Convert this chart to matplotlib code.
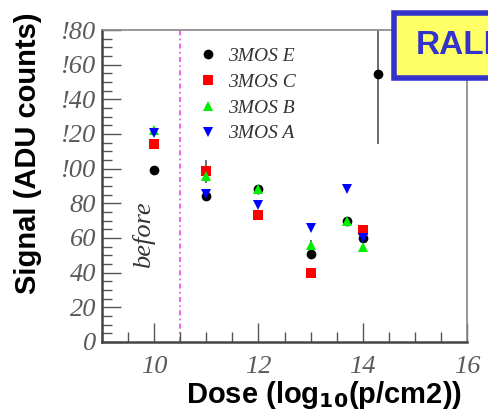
import numpy as np
import matplotlib
matplotlib.use("Agg")
import matplotlib.pyplot as plt
from matplotlib.patches import Rectangle

# dose values (log10 p/cm2) and signal for each device
doseE = [10, 11, 12, 13, 13.7, 14, 14.3]
sigE = [99, 84.5, 88, 50.5, 70, 60, 154.5]
errE = [0, 0, 0, 0, 0, 0, 40]

doseC = [10, 11, 12, 13, 14]
sigC = [114, 98.5, 73.5, 39.5, 64.5]
errC = [0, 6.5, 0, 0, 3]

doseB = [10, 11, 12, 13, 13.7, 14]
sigB = [122.5, 95.5, 88, 56, 70, 54.5]
errB = [0, 0, 0, 3, 0, 0]

doseA = [10, 11, 12, 13, 13.7, 14]
sigA = [120.5, 85.5, 79, 65.5, 88.5, 60]
errA = [0, 0, 0, 0, 0, 0]

names = ["3MOS E", "3MOS C", "3MOS B", "3MOS A"]
yticks = [0, 20, 40, 60, 80, 100, 120, 140, 160, 180]
ylabels = ["0", "20", "40", "60", "80", "!00", "!20", "!40", "!60", "!80"]
xticks = [10, 12, 14, 16]

fig = plt.figure(figsize=(4.88, 4.17), dpi=100)
ax = fig.add_axes([0.209, 0.180, 0.748, 0.748])

series = [(doseE, sigE, errE, "o", "black", 7),
          (doseC, sigC, errC, "s", "red", 7),
          (doseB, sigB, errB, "^", "#00ee00", 7.5),
          (doseA, sigA, errA, "v", "blue", 7.5)]

for (x, y, e, m, c, s), lab in zip(series, names):
    ax.errorbar(x, y, yerr=e, fmt="none", ecolor="#555555", elinewidth=1.2, capsize=0, zorder=2)
    ax.plot(x, y, linestyle="none", marker=m, color=c, markersize=s, markeredgewidth=0, label=lab, zorder=3)

# line separating the "before" points from the irradiated ones
ax.axvline(10.5, color="#ee44ee", linestyle=(0, (3, 2, 1, 2)), linewidth=1.2, zorder=1)
ax.text(9.8, 62, "before", rotation=90, ha="center", va="center", fontsize=19,
        fontstyle="italic", family="Liberation Serif", color="#333333")

ax.set_xlim(9, 16)
ax.set_ylim(0, 180)
ax.set_xticks(xticks)
ax.set_xticks(np.arange(9, 16.01, 0.5), minor=True)
ax.set_yticks(yticks)
ax.set_yticks(np.arange(0, 180.1, 5), minor=True)
ax.set_yticklabels(ylabels)
ax.tick_params(which="major", direction="in", length=14, width=1, color="#555555")
ax.tick_params(which="minor", direction="in", length=7, width=1, color="#555555")
ax.tick_params(top=False, right=False, labelsize=19, labelcolor="#5a5a5a")
for t in ax.get_xticklabels() + ax.get_yticklabels():
    t.set_family("Liberation Serif")
    t.set_style("italic")
ax.tick_params(axis="x", pad=10)
ax.tick_params(axis="y", pad=4)

for side in ["top", "right"]:
    ax.spines[side].set_color("#888888")
    ax.spines[side].set_linewidth(1.2)
for side in ["left", "bottom"]:
    ax.spines[side].set_color("#444444")
    ax.spines[side].set_linewidth(1.8)

leg = ax.legend(loc="upper left", bbox_to_anchor=(0.21, 1.0), frameon=False,
                prop={"family": "Liberation Serif", "style": "italic", "size": 14},
                handletextpad=0.45, labelspacing=0.42, handlelength=1.2)
for t in leg.get_texts():
    t.set_color("#333333")

fig.text(0.947, 0.052, r"Dose (log$_{\mathbf{10}}$(p/cm2))", ha="right", va="center",
         fontsize=21, fontweight="bold", family="Liberation Sans")
fig.text(0.058, 0.97, "Signal (ADU counts)", rotation=90, ha="center", va="top",
         fontsize=21, fontweight="bold", family="Liberation Sans")

# yellow RAL box in the corner, partly off the page
fig.patches.append(Rectangle((0.808, 0.813), 0.25, 0.155, transform=fig.transFigure,
                             facecolor="#ffff66", edgecolor="#3333cc", linewidth=4, zorder=5))
fig.text(0.851, 0.89, "RALI", ha="left", va="center", fontsize=24, fontweight="bold",
         family="Liberation Sans", color="#3333cc", zorder=6)

fig.savefig("out.png", dpi=100)
